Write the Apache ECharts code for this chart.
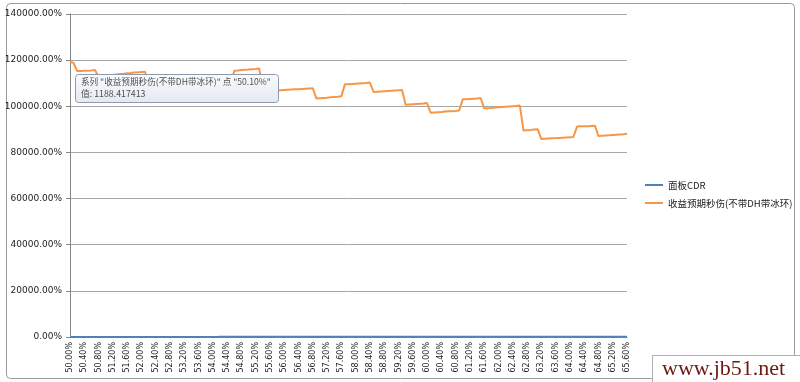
<!DOCTYPE html>
<html>
<head>
<meta charset="utf-8">
<script src="https://cdn.jsdelivr.net/npm/echarts@6/dist/echarts.min.js"></script>
<style>html,body{margin:0;padding:0;background:#fff}#c{width:800px;height:382px}</style>
</head>
<body>
<div id="c"></div>
<script>
// Category labels (crit rate), 0.10% steps
const categories = [
"50.00%","50.10%","50.20%","50.30%","50.40%","50.50%","50.60%","50.70%","50.80%","50.90%",
"51.00%","51.10%","51.20%","51.30%","51.40%","51.50%","51.60%","51.70%","51.80%","51.90%",
"52.00%","52.10%","52.20%","52.30%","52.40%","52.50%","52.60%","52.70%","52.80%","52.90%",
"53.00%","53.10%","53.20%","53.30%","53.40%","53.50%","53.60%","53.70%","53.80%","53.90%",
"54.00%","54.10%","54.20%","54.30%","54.40%","54.50%","54.60%","54.70%","54.80%","54.90%",
"55.00%","55.10%","55.20%","55.30%","55.40%","55.50%","55.60%","55.70%","55.80%","55.90%",
"56.00%","56.10%","56.20%","56.30%","56.40%","56.50%","56.60%","56.70%","56.80%","56.90%",
"57.00%","57.10%","57.20%","57.30%","57.40%","57.50%","57.60%","57.70%","57.80%","57.90%",
"58.00%","58.10%","58.20%","58.30%","58.40%","58.50%","58.60%","58.70%","58.80%","58.90%",
"59.00%","59.10%","59.20%","59.30%","59.40%","59.50%","59.60%","59.70%","59.80%","59.90%",
"60.00%","60.10%","60.20%","60.30%","60.40%","60.50%","60.60%","60.70%","60.80%","60.90%",
"61.00%","61.10%","61.20%","61.30%","61.40%","61.50%","61.60%","61.70%","61.80%","61.90%",
"62.00%","62.10%","62.20%","62.30%","62.40%","62.50%","62.60%","62.70%","62.80%","62.90%",
"63.00%","63.10%","63.20%","63.30%","63.40%","63.50%","63.60%","63.70%","63.80%","63.90%",
"64.00%","64.10%","64.20%","64.30%","64.40%","64.50%","64.60%","64.70%","64.80%","64.90%",
"65.00%","65.10%","65.20%","65.30%","65.40%","65.50%","65.60%"];

// Series 1: 面板CDR (tiny values, lies along the x axis)
const panelCDR = [
0.500,0.501,0.502,0.503,0.504,0.505,0.506,0.507,0.508,0.509,
0.510,0.511,0.512,0.513,0.514,0.515,0.516,0.517,0.518,0.519,
0.520,0.521,0.522,0.523,0.524,0.525,0.526,0.527,0.528,0.529,
0.530,0.531,0.532,0.533,0.534,0.535,0.536,0.537,0.538,0.539,
0.540,0.541,0.542,0.543,0.544,0.545,0.546,0.547,0.548,0.549,
0.550,0.551,0.552,0.553,0.554,0.555,0.556,0.557,0.558,0.559,
0.560,0.561,0.562,0.563,0.564,0.565,0.566,0.567,0.568,0.569,
0.570,0.571,0.572,0.573,0.574,0.575,0.576,0.577,0.578,0.579,
0.580,0.581,0.582,0.583,0.584,0.585,0.586,0.587,0.588,0.589,
0.590,0.591,0.592,0.593,0.594,0.595,0.596,0.597,0.598,0.599,
0.600,0.601,0.602,0.603,0.604,0.605,0.606,0.607,0.608,0.609,
0.610,0.611,0.612,0.613,0.614,0.615,0.616,0.617,0.618,0.619,
0.620,0.621,0.622,0.623,0.624,0.625,0.626,0.627,0.628,0.629,
0.630,0.631,0.632,0.633,0.634,0.635,0.636,0.637,0.638,0.639,
0.640,0.641,0.642,0.643,0.644,0.645,0.646,0.647,0.648,0.649,
0.650,0.651,0.652,0.653,0.654,0.655,0.656];

// Series 2: 收益预期秒伤(不带DH带冰环)
const expectedDps = [
1192,1188.417413,
1153,1153,1154,1154,1155,1157,
1128,1130,1132,1134,1136,1138,1140,1141,1143,1144,1146,1147,1149,1150,
1097,1098,1099,1100,1101,1102,1103,1104,
1064,1065,1066,1067,1068,1069,1070,1071,
1080,1081,1082,1083,1084,1085,1086,1087,
1154,1155,1157,1158,1159,1161,1162,1164,
1066,1067,1068,1069,1069,1070,1071,1072,1073,1074,1074,1075,1076,1077,1078,
1034,1035,1036,1037,1039,1040,1041,1043,
1095,1096,1097,1098,1099,1100,1101,1103,
1062,1063,1064,1065,1066,1067,1068,1069,1071,
1007,1008,1009,1010,1011,1012,1014,
972,973,974,975,977,978,979,980,982,
1030,1031,1032,1033,1034,1036,
991,992,993,995,996,997,998,999,1000,1001,1003,
895,896,897,899,900,
858,859,860,861,862,863,864,865,866,867,
912,913,914,914,915,916,
871,872,873,874,876,877,878,879,881];

const seriesNames = ["面板CDR", "收益预期秒伤(不带DH带冰环)"];
const tipLine1 = '系列 "收益预期秒伤(不带DH带冰环)" 点 "50.10%"';
const tipLine2 = '值: 1188.417413';

const chart = echarts.init(document.getElementById('c'), null, {renderer: 'canvas'});
const font = '"DejaVu Sans", sans-serif';
chart.setOption({
  animation: false,
  backgroundColor: '#ffffff',
  grid: {left: 70, right: 173, top: 14, bottom: 45},
  legend: {
    orient: 'vertical', left: 640, top: 174, itemGap: 6,
    itemWidth: 18, itemHeight: 2, icon: 'rect',
    textStyle: {fontFamily: '"Noto Sans CJK SC", sans-serif', fontSize: 9.5, color: '#222', lineHeight: 12},
    data: seriesNames
  },
  xAxis: {
    type: 'category', data: categories, boundaryGap: false,
    axisLine: {lineStyle: {color: '#868686', width: 1}},
    axisTick: {show: false},
    axisLabel: {interval: 3, rotate: 90, margin: 5, fontSize: 8, color: '#222', fontFamily: font},
    splitLine: {show: false}
  },
  yAxis: {
    type: 'value', min: 0, max: 1400, interval: 200,
    axisLine: {show: true, lineStyle: {color: '#868686', width: 1}},
    axisTick: {show: true, inside: false, length: 4, lineStyle: {color: '#868686'}},
    axisLabel: {margin: 8, fontSize: 9, color: '#222', fontFamily: font,
      formatter: v => (v * 100).toFixed(2) + '%'},
    splitLine: {lineStyle: {color: '#a6a6a6', width: 1}}
  },
  series: [
    {name: seriesNames[0], type: 'line', data: panelCDR, showSymbol: false,
     lineStyle: {color: '#4F81BD', width: 2}, itemStyle: {color: '#4F81BD'}},
    {name: seriesNames[1], type: 'line', data: expectedDps, showSymbol: false,
     lineStyle: {color: '#F79646', width: 2}, itemStyle: {color: '#F79646'}}
  ],
  graphic: [
    {type: 'rect', shape: {x: 6.5, y: 3.5, width: 788, height: 375, r: 4}, silent: true,
     style: {fill: null, stroke: '#9a9a9a', lineWidth: 1}, z: 0},
    {type: 'rect', z: 100, zlevel: 1, shape: {x: 75.5, y: 74.5, width: 203, height: 28, r: 3},
     style: {fill: new echarts.graphic.LinearGradient(0, 0, 0, 1, [
       {offset: 0, color: '#fafbfd'}, {offset: 1, color: '#e4e8f2'}]),
       stroke: '#8e99ad', lineWidth: 1}},
    {type: 'text', z: 101, zlevel: 1, x: 81, y: 77, style: {text: tipLine1, fill: '#505050',
      font: '8.6px "Noto Sans CJK SC", sans-serif'}},
    {type: 'text', z: 101, zlevel: 1, x: 81, y: 89, style: {text: tipLine2, fill: '#505050',
      font: '8.8px "Noto Sans CJK SC", sans-serif'}},
    {type: 'rect', z: 100, zlevel: 1, shape: {x: 652.5, y: 355.5, width: 150, height: 30},
     style: {fill: '#ffffff', stroke: '#b0b0b0', lineWidth: 1}},
    {type: 'text', z: 101, zlevel: 1, x: 662, y: 358, style: {text: 'www.jb51.net', fill: '#6b1a10',
      font: '22px "Liberation Serif", serif'}}
  ]
});
</script>
</body>
</html>
